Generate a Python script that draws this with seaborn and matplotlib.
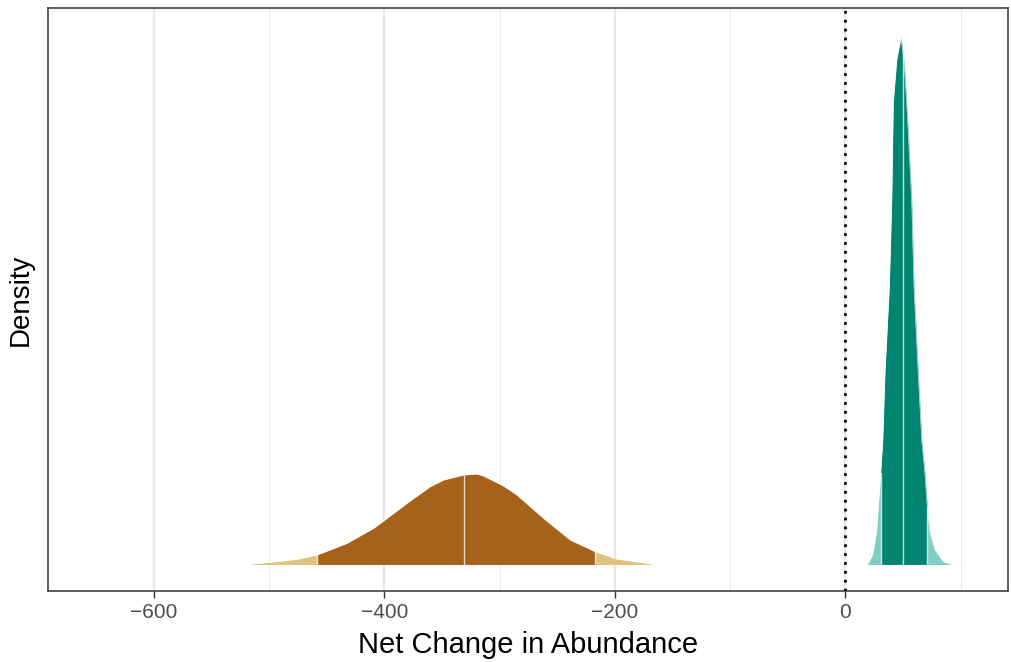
import numpy as np
import pandas as pd
import seaborn as sns
import matplotlib.pyplot as plt

# density curves (x = net change, y = density)
brown_x = [-519.2, -499.0, -475.8, -458.5, -432.5, -409.4, -400.8, -380.5, -360.3, -348.7,
           -331.4, -319.8, -314.1, -296.7, -285.1, -262.0, -238.9, -217.2, -198.4, -165.2]
brown_y = [0.0, 0.000132, 0.000312, 0.00057, 0.00127, 0.00217, 0.00261, 0.00367, 0.00467, 0.00507,
           0.00537, 0.00543, 0.00531, 0.00471, 0.00417, 0.00277, 0.00147, 0.00077, 0.00033, 0.0]
brown_q = [-458.5, -331.0, -217.2]

green_x = [18.9, 22.7, 24.1, 27.1, 30.5, 32.3, 34.2, 38.0, 40.1, 41.4, 44.4, 48.1,
           51.0, 53.9, 57.4, 59.4, 63.1, 66.1, 68.9, 70.9, 73.3, 77.6, 84.8, 92.1]
green_y = [0.0, 0.00047, 0.00077, 0.00207, 0.00549, 0.00747, 0.01149, 0.01667, 0.02187, 0.02769,
           0.03027, 0.03163, 0.03007, 0.02667, 0.02187, 0.01667, 0.01149, 0.00747, 0.00549, 0.00347,
           0.00189, 0.00087, 0.00017, 0.0]
green_q = [30.5, 49.7, 70.9]

major_ticks = [-600, -400, -200, 0]
minor_ticks = [-500, -300, -100, 100]

sns.set_style("white")
plt.rcParams['font.family'] = ['Liberation Sans', 'DejaVu Sans']

fig = plt.figure(figsize=(10.12, 6.62), dpi=100)
ax = fig.add_axes([0.0471, 0.1073, 0.949, 0.8807])

# grid like theme_bw
for t in minor_ticks:
    ax.axvline(t, color="#EBEBEB", lw=0.8, zorder=0)
for t in major_ticks:
    ax.axvline(t, color="#E6E6E6", lw=1.6, zorder=0)

curves = [
    (brown_x, brown_y, brown_q, "#A6611A", "#DFC27D"),
    (green_x, green_y, green_q, "#018571", "#80CDC1"),
]
for xs, ys, q, dark, light in curves:
    df = pd.DataFrame({"x": xs, "y": ys})
    xa = df["x"].to_numpy()
    ya = df["y"].to_numpy()
    lo, med, hi = q
    ax.fill_between(xa, 0, ya, where=xa <= lo + 1e-9, color=light, lw=0, zorder=2)
    ax.fill_between(xa, 0, ya, where=xa >= hi - 1e-9, color=light, lw=0, zorder=2)
    ax.fill_between(xa, 0, ya, where=(xa >= lo - 1e-9) & (xa <= hi + 1e-9),
                    color=dark, lw=0, zorder=3)
    sns.lineplot(data=df, x="x", y="y", ax=ax, color="white", lw=0.4, zorder=4,
                 sort=False, estimator=None)
    for v in q:
        top = np.interp(v, xa, ya)
        ax.plot([v, v], [0, top], color="white", lw=1.0, alpha=0.75, zorder=5)

ax.axvline(0, color="black", lw=2, ls=(0, (1, 2.2)), zorder=6)

ax.set_xlim(-692, 141)
ax.set_ylim(-0.00159, 0.03339)
ax.set_xticks(major_ticks)
ax.set_xticklabels(["\u2212600", "\u2212400", "\u2212200", "0"])
ax.set_yticks([])
ax.tick_params(axis="x", length=5, width=1, color="#333333", labelcolor="#4D4D4D",
               labelsize=15, pad=4, bottom=True)
ax.set_xlabel("Net Change in Abundance", fontsize=21, color="black", labelpad=6)
ax.set_ylabel("Density", fontsize=20, color="black", labelpad=10)
for s in ax.spines.values():
    s.set_color("#333333")
    s.set_linewidth(1.1)

fig.savefig("out.png", dpi=100)
